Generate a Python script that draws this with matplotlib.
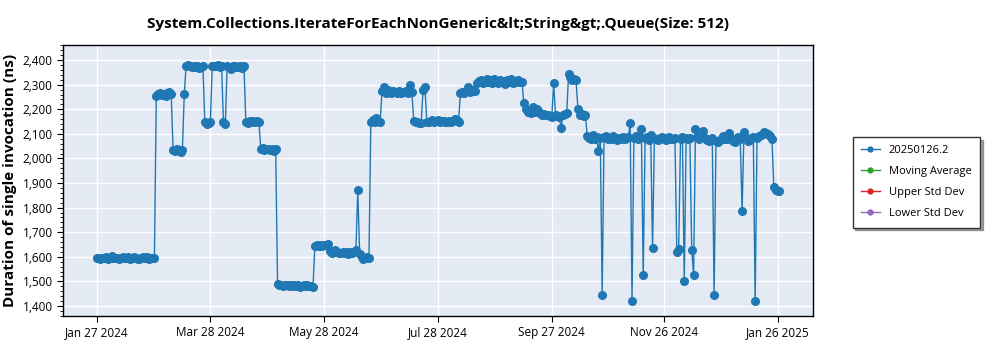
import pandas as pd
import matplotlib
matplotlib.use("Agg")
import matplotlib.pyplot as plt
import matplotlib.dates as mdates
from matplotlib.ticker import FuncFormatter, MultipleLocator

plt.rcParams["font.family"] = ["Open Sans", "DejaVu Sans"]

TITLE = "System.Collections.IterateForEachNonGeneric&lt;String&gt;.Queue(Size: 512)"
Y_LABEL = "Duration of single invocation (ns)"
SERIES_NAME = "20250126.2"
START_DATE = "2024-01-27"

# one measurement per day, starting at START_DATE
VALUES = [
    # 1600 plateau
    1597, 1595, 1593, 1596, 1594, 1598, 1592, 1595, 1603, 1596, 1594, 1597, 1593, 1595, 1598, 1596,
    1594, 1600, 1592, 1597, 1601, 1595, 1593, 1590, 1596, 1598, 1594, 1599, 1592, 1595, 1597, 1594,
    2255, 2262, 2266, 2258, 2263, 2255, 2268, 2270, 2262,
    2035, 2030, 2038, 2033, 2028, 2036,
    2262,
    2378, 2380, 2376, 2374, 2377, 2372, 2375, 2370, 2373, 2376,
    2148, 2140, 2145, 2150,
    2378, 2375, 2377, 2380, 2374, 2376,
    2147, 2142,
    2376, 2373, 2366, 2375, 2378, 2374, 2372, 2377, 2370, 2376,
    2150, 2146, 2152, 2148, 2151, 2149, 2153, 2150,
    2038, 2041, 2035, 2039, 2037, 2034, 2038, 2030, 2037,
    # low plateau
    1488, 1484, 1486, 1482, 1487, 1485, 1483, 1486, 1480, 1484, 1482, 1485, 1479, 1483, 1486, 1481,
    1484, 1480, 1483, 1478,
    1645, 1648, 1644, 1647, 1643, 1646, 1649, 1652,
    1622, 1615, 1618, 1626, 1620, 1614, 1617, 1621, 1616, 1619, 1613, 1618, 1615, 1620, 1628, 1870,
    1612,
    1598, 1590, 1595, 1600, 1597,
    2150, 2155, 2148, 2165, 2152, 2150,
    2275, 2290, 2268, 2280, 2272, 2265, 2276, 2270, 2268, 2274, 2266, 2271, 2269, 2273, 2267, 2300,
    2270,
    2152, 2148, 2150, 2146, 2145,
    2280, 2290,
    2150, 2148, 2153, 2155, 2150, 2152, 2156, 2149, 2151, 2154, 2148, 2150, 2153, 2147, 2152, 2160,
    2155, 2148,
    2265, 2272, 2268, 2275, 2290, 2270, 2273, 2278, 2276,
    2305, 2315, 2320, 2308, 2312, 2325, 2310, 2318, 2306, 2322, 2314, 2309, 2320, 2312, 2316, 2304,
    2318, 2311, 2323, 2308, 2315, 2310, 2319, 2313, 2312,
    2225, 2200, 2190, 2195, 2185, 2210, 2190, 2200, 2188, 2182, 2178, 2180, 2175, 2178, 2172, 2170,
    2308, 2175, 2172, 2168, 2125, 2176, 2180, 2185,
    2345, 2330, 2320, 2325, 2318,
    2200, 2175, 2180, 2172, 2178,
    # 2080 plateau with outliers
    2090, 2085, 2080, 2095, 2078, 2088, 2030, 2082, 1445, 2086, 2092, 2080, 2084, 2078, 2090, 2082,
    2076, 2085, 2080, 2088, 2079, 2083, 2086, 2144, 1421, 2084, 2090, 2078, 2092, 2120, 1526, 2082,
    2088, 2077, 2095, 1636, 2085, 2080, 2076, 2083, 2088, 2079, 2074, 2082, 2086, 2080, 2078, 2084,
    1620, 1632, 2081, 2086, 1502, 2082, 2079, 2084, 1628, 1526, 2119, 2088, 2080, 2092, 2113, 2082,
    2076, 2070, 2078, 2084, 1445, 2072, 2068, 2075, 2082, 2090, 2078, 2080, 2105, 2085, 2072, 2066,
    2078, 2086, 2080, 1786, 2108, 2085, 2070, 2076, 2082, 2088, 1420, 2085, 2092, 2096, 2100, 2108,
    2104, 2098, 2090, 2080,
    1882, 1870, 1866, 1868,
]

TICK_DATES = ["2024-01-27", "2024-03-28", "2024-05-28", "2024-07-28",
              "2024-09-27", "2024-11-26", "2025-01-26"]

EXTRA_SERIES = [("Moving Average", "#2ca02c"),
                ("Upper Std Dev", "#d62728"),
                ("Lower Std Dev", "#9467bd")]

dates = pd.date_range(START_DATE, periods=len(VALUES), freq="D")

fig = plt.figure(figsize=(10, 3.5), dpi=100)
ax = fig.add_axes([0.063, 0.097, 0.75, 0.774])
ax.set_facecolor("#e4eaf4")

ax.plot(dates, VALUES, color="#1f77b4", lw=1, marker="o", ms=5.5,
        mec="#1f77b4", label=SERIES_NAME, zorder=3)
for name, col in EXTRA_SERIES:
    ax.plot([], [], color=col, lw=1, marker="o", ms=3.5, label=name)

ax.set_xlim(pd.Timestamp("2024-01-09"), pd.Timestamp("2025-02-14"))
ax.set_ylim(1359, 2461)
ax.set_xticks(pd.to_datetime(TICK_DATES))
ax.xaxis.set_major_formatter(mdates.DateFormatter("%b %d %Y"))
ax.yaxis.set_major_locator(MultipleLocator(100))
ax.yaxis.set_minor_locator(MultipleLocator(20))
ax.yaxis.set_major_formatter(FuncFormatter(lambda v, p: f"{v:,.0f}"))
ax.tick_params(labelsize=8.5, length=4)
ax.tick_params(axis="y", which="minor", length=2)
ax.grid(True, color="white", lw=1)
ax.set_axisbelow(True)
for s in ax.spines.values():
    s.set_color("black")
    s.set_linewidth(1)

ax.set_title(TITLE, fontsize=11, fontweight="bold", pad=12)
ax.set_ylabel(Y_LABEL, fontsize=11, fontweight="bold", labelpad=4)

handles, labels = ax.get_legend_handles_labels()
leg = fig.legend(handles, labels, loc="center left", bbox_to_anchor=(0.847, 0.479),
                 fontsize=8, frameon=True, fancybox=False, shadow=True,
                 handlelength=1.7, borderpad=0.75, labelspacing=0.9)
leg.legend_handles[0].set_markersize(3.5)
leg.get_frame().set_edgecolor("#333333")
leg.get_frame().set_linewidth(1)

fig.savefig("out.png", dpi=100)
